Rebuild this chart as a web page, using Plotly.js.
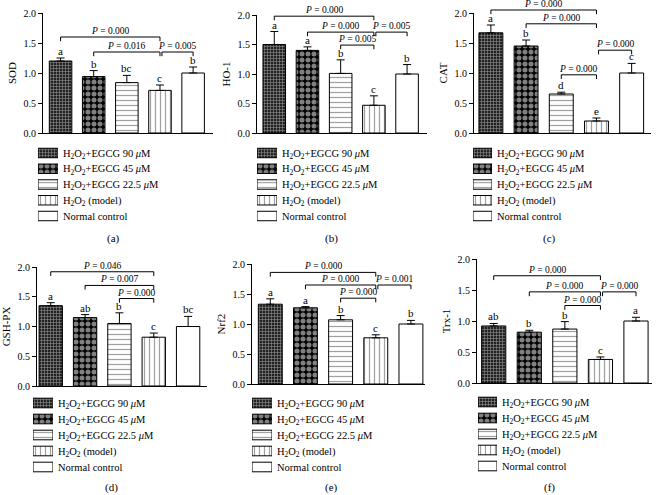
<!DOCTYPE html>
<html>
<head>
<meta charset="utf-8">
<script src="https://cdn.plot.ly/plotly-3.0.1.min.js"></script>
<style>body{margin:0;padding:0;background:#fff;} #fig{width:658px;height:495px;}</style>
</head>
<body>
<div id="fig"></div>
<script>
// group names (legend)
var groups = [
  'H<sub>2</sub>O<sub>2</sub>+EGCG 90 <i>μ</i>M',
  'H<sub>2</sub>O<sub>2</sub>+EGCG 45 <i>μ</i>M',
  'H<sub>2</sub>O<sub>2</sub>+EGCG 22.5 <i>μ</i>M',
  'H<sub>2</sub>O<sub>2</sub> (model)',
  'Normal control'
];
var markers = ['SOD', 'HO-1', 'CAT', 'GSH-PX', 'Nrf2', 'Trx-1'];
var tags = ['(a)', '(b)', '(c)', '(d)', '(e)', '(f)'];
var yTickVals = [0, 0.5, 1, 1.5, 2];
var yTickText = ['0.0', '0.5', '1.0', '1.5', '2.0'];

// bar means and (upper) SEM, one value per group
var sodMean = [1.20, 0.94, 0.84, 0.71, 1.00];
var sodErr  = [0.05, 0.10, 0.12, 0.09, 0.10];
var sodLetters = ['a', 'b', 'bc', 'c', 'b'];

var hoMean = [1.50, 1.40, 1.01, 0.47, 1.00];
var hoErr  = [0.22, 0.06, 0.23, 0.16, 0.16];
var hoLetters = ['a', 'a', 'b', 'c', 'b'];

var catMean = [1.67, 1.45, 0.65, 0.20, 1.00];
var catErr  = [0.13, 0.10, 0.03, 0.05, 0.16];
var catLetters = ['a', 'b', 'd', 'e', 'c'];

var gshMean = [1.35, 1.15, 1.05, 0.82, 1.00];
var gshErr  = [0.05, 0.05, 0.18, 0.07, 0.17];
var gshLetters = ['a', 'ab', 'b', 'c', 'bc'];

var nrfMean = [1.33, 1.27, 1.07, 0.77, 1.00];
var nrfErr  = [0.09, 0.02, 0.07, 0.05, 0.06];
var nrfLetters = ['a', 'a', 'b', 'c', 'b'];

var trxMean = [0.92, 0.82, 0.87, 0.38, 1.00];
var trxErr  = [0.04, 0.03, 0.12, 0.04, 0.06];
var trxLetters = ['ab', 'b', 'b', 'c', 'a'];

// comparisons: [from bar, to bar, bracket level, P value]
var sodTests = [[0, 3, 1.60, '0.000'], [1, 3, 1.35, '0.016'], [3, 4, 1.35, '0.005']];
var hoTests  = [[0, 3, 1.98, '0.000'], [1, 3, 1.71, '0.000'], [2, 3, 1.49, '0.005'], [3, 4, 1.71, '0.005']];
var catTests = [[0, 3, 2.05, '0.000'], [1, 3, 1.82, '0.000'], [2, 3, 0.97, '0.000'], [3, 4, 1.38, '0.000']];
var gshTests = [[0, 3, 1.92, '0.046'], [1, 3, 1.69, '0.007'], [2, 3, 1.47, '0.000']];
var nrfTests = [[0, 3, 1.86, '0.000'], [1, 3, 1.65, '0.000'], [2, 3, 1.43, '0.000'], [3, 4, 1.65, '0.001']];
var trxTests = [[0, 3, 1.73, '0.000'], [1, 3, 1.47, '0.000'], [2, 3, 1.25, '0.000'], [3, 4, 1.47, '0.000']];

var means = [sodMean, hoMean, catMean, gshMean, nrfMean, trxMean];
var errs = [sodErr, hoErr, catErr, gshErr, nrfErr, trxErr];
var letters = [sodLetters, hoLetters, catLetters, gshLetters, nrfLetters, trxLetters];
var tests = [sodTests, hoTests, catTests, gshTests, nrfTests, trxTests];

var serif = 'Liberation Serif, Times New Roman, serif';
var W = 658, H = 495;

// subplot placement (pixels: left, right, y of 0.0, y of 2.0)
var boxes = [[43, 213, 133, 13], [257, 427, 133, 15], [474, 651, 133, 13],
             [37, 207, 386, 267], [252, 425, 384, 264], [477, 652, 383, 259]];
var xRng = [[-0.53, 4.6], [-0.52, 4.6], [-0.48, 4.55],
            [-0.40, 4.55], [-0.52, 4.4], [-0.47, 4.45]];
// legend key boxes (pixels: left, right, first row centre, row step)
var keys = [[38, 58, 153, 15.75], [257, 277, 153, 15.75], [473, 492, 153, 15.75],
            [33, 53, 403, 16], [252, 272, 403, 16], [478, 497, 402, 16]];
var tagPos = [[113, 238], [331, 238], [549, 238], [111, 487], [331, 487], [549, 487]];

// fill styles per group
var fillColor = ['#222', '#000', '#fff', '#fff', '#fff'];
var patShape = ['+', '.', '-', '|', ''];
var patFg = ['#9a9a9a', '#fff', '#000', '#333', '#000'];
var patBg = ['#222', '#000', '#fff', '#fff', '#fff'];
var patSize = [3, 6, 5, 5, 5];
var patSolid = [0.35, 0.55, 0.25, 0.25, 0.25];

function barMarker() {
  return {
    color: fillColor, line: {color: '#000', width: 1},
    pattern: {shape: patShape, fgcolor: patFg, bgcolor: patBg, size: patSize,
              solidity: patSolid, fillmode: 'overlay'}
  };
}

var data = [];
var annotations = [];
var shapes = [];
var layout = {
  width: W, height: H,
  margin: {l: 0, r: 0, t: 0, b: 0},
  paper_bgcolor: '#fff', plot_bgcolor: '#fff',
  barmode: 'overlay', showlegend: false,
  font: {family: serif, color: '#000', size: 10}
};

var idx = groups.map(function (g, i) { return i; });

for (var p = 0; p < 6; p++) {
  var n = p === 0 ? '' : String(p + 1);
  var b = boxes[p];

  data.push({
    type: 'bar', x: idx, y: means[p], width: 0.68,
    xaxis: 'x' + n, yaxis: 'y' + n,
    marker: barMarker(),
    error_y: {type: 'data', symmetric: false, array: errs[p], arrayminus: [0, 0, 0, 0, 0],
              color: '#000', thickness: 1, width: 4},
    hoverinfo: 'skip'
  });
  for (var g = 0; g < 5; g++) {
    annotations.push({
      xref: 'x' + n, yref: 'y' + n,
      x: g, y: means[p][g] + errs[p][g],
      text: letters[p][g], showarrow: false,
      xanchor: 'center', yanchor: 'bottom', yshift: -1,
      font: {family: serif, size: 11}
    });
  }

  layout['xaxis' + n] = {
    domain: [b[0] / W, b[1] / W], anchor: 'y' + n, range: xRng[p],
    showline: true, linecolor: '#000', linewidth: 1,
    showticklabels: false, ticks: '', showgrid: false, zeroline: false
  };
  layout['yaxis' + n] = {
    domain: [1 - b[2] / H, 1 - b[3] / H], anchor: 'x' + n, range: [0, 2],
    tickvals: yTickVals, ticktext: yTickText,
    ticks: 'outside', ticklen: 4, tickcolor: '#000',
    showline: true, linecolor: '#000', linewidth: 1,
    showgrid: false, zeroline: false,
    tickfont: {family: serif, size: 10},
    title: {text: markers[p], font: {family: serif, size: 11}, standoff: 4}
  };

  // legend key: a tiny horizontal bar subplot with the group names as tick labels
  var k = keys[p];
  var m = String(p + 7);
  data.push({
    type: 'bar', orientation: 'h', y: idx, x: idx.map(function () { return 1; }),
    width: 0.6, xaxis: 'x' + m, yaxis: 'y' + m,
    marker: barMarker(), hoverinfo: 'skip'
  });
  layout['xaxis' + m] = {
    domain: [k[0] / W, k[1] / W], anchor: 'y' + m, range: [0, 1], visible: false
  };
  layout['yaxis' + m] = {
    domain: [1 - (k[2] + 4.5 * k[3]) / H, 1 - (k[2] - 0.5 * k[3]) / H],
    anchor: 'x' + m, range: [4.5, -0.5], side: 'right',
    tickvals: idx, ticktext: groups, ticks: '', ticklabelstandoff: 4,
    showline: false, showgrid: false, zeroline: false,
    tickfont: {family: serif, size: 10.5}
  };

  annotations.push({
    xref: 'paper', yref: 'paper', x: tagPos[p][0] / W, y: 1 - tagPos[p][1] / H,
    text: tags[p], showarrow: false, xanchor: 'center', yanchor: 'middle',
    font: {family: serif, size: 11}
  });

  // significance brackets (domain units so they can sit above the axis top)
  var xr = xRng[p];
  var fx = function (v) { return (v - xr[0]) / (xr[1] - xr[0]); };
  for (var t = 0; t < tests[p].length; t++) {
    var c = tests[p][t];
    var x0 = c[0] + (c[0] === 3 ? 0.06 : 0);
    var x1 = c[1];
    var yl = c[2] / 2, drop = 0.035;
    var path = 'M' + fx(x0) + ',' + (yl - drop) + ' L' + fx(x0) + ',' + yl +
               ' L' + fx(x1) + ',' + yl + ' L' + fx(x1) + ',' + (yl - drop);
    shapes.push({type: 'path', xref: 'x' + n + ' domain', yref: 'y' + n + ' domain',
                 path: path, line: {color: '#000', width: 1}});
    annotations.push({
      xref: 'x' + n + ' domain', yref: 'y' + n + ' domain',
      x: fx((x0 + x1) / 2), y: yl,
      text: '<i>P</i> = ' + c[3], showarrow: false,
      xanchor: 'center', yanchor: 'bottom', yshift: -1,
      font: {family: serif, size: 9.5}
    });
  }
}

layout.annotations = annotations;
layout.shapes = shapes;

Plotly.newPlot('fig', data, layout, {displayModeBar: false, staticPlot: true});
</script>
</body>
</html>
